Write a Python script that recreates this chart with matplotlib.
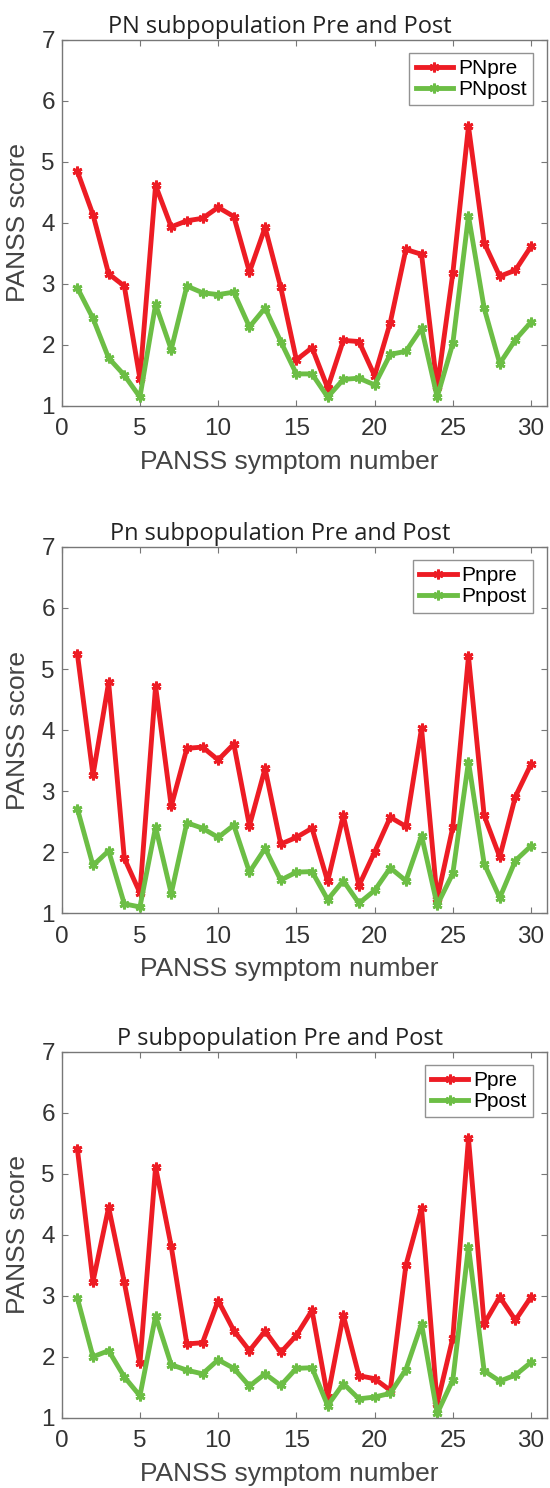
import numpy as np
import matplotlib.pyplot as plt

symptom = np.arange(1, 31)

pn_pre = [4.84, 4.13, 3.16, 2.96, 1.44, 4.61, 3.93, 4.03, 4.07, 4.25, 4.10, 3.19, 3.92, 2.94, 1.75,
          1.95, 1.29, 2.07, 2.05, 1.49, 2.36, 3.56, 3.48, 1.30, 3.17, 5.58, 3.67, 3.12, 3.22, 3.61]
pn_post = [2.93, 2.43, 1.78, 1.50, 1.14, 2.66, 1.92, 2.96, 2.85, 2.82, 2.86, 2.29, 2.60, 2.05, 1.52,
           1.52, 1.14, 1.43, 1.45, 1.34, 1.84, 1.89, 2.27, 1.14, 2.02, 4.11, 2.60, 1.69, 2.08, 2.37]
pn2_pre = [5.25, 3.26, 4.78, 1.90, 1.33, 4.72, 2.75, 3.70, 3.72, 3.51, 3.77, 2.43, 3.37, 2.13, 2.24,
           2.39, 1.52, 2.60, 1.45, 2.00, 2.57, 2.42, 4.03, 1.23, 2.41, 5.21, 2.60, 1.92, 2.91, 3.44]
pn2_post = [2.71, 1.78, 2.02, 1.15, 1.10, 2.41, 1.32, 2.48, 2.39, 2.24, 2.44, 1.67, 2.06, 1.54, 1.67,
            1.68, 1.22, 1.53, 1.16, 1.37, 1.74, 1.53, 2.27, 1.13, 1.65, 3.48, 1.81, 1.25, 1.86, 2.10]
p_pre = [5.41, 3.23, 4.45, 3.22, 1.89, 5.11, 3.81, 2.21, 2.23, 2.92, 2.43, 2.10, 2.42, 2.07, 2.35,
         2.76, 1.34, 2.68, 1.69, 1.64, 1.45, 3.50, 4.44, 1.23, 2.31, 5.58, 2.54, 2.98, 2.60, 2.98]
p_post = [2.96, 2.00, 2.10, 1.67, 1.36, 2.67, 1.87, 1.78, 1.72, 1.95, 1.81, 1.52, 1.72, 1.53, 1.81,
          1.82, 1.20, 1.56, 1.31, 1.34, 1.40, 1.79, 2.54, 1.07, 1.62, 3.80, 1.77, 1.60, 1.70, 1.91]

titles = ["PN subpopulation Pre and Post", "Pn subpopulation Pre and Post", "P subpopulation Pre and Post"]
labels = [("PNpre", "PNpost"), ("Pnpre", "Pnpost"), ("Ppre", "Ppost")]
series = [(pn_pre, pn_post), (pn2_pre, pn2_post), (p_pre, p_post)]

red = "#ED1C24"
green = "#6CBE45"
asterisk = (6, 2, 0)

fig = plt.figure(figsize=(5.5, 14.88), dpi=100)
bottoms = [0.7274, 0.3864, 0.0472]

for i in range(3):
    ax = fig.add_axes([0.1122, bottoms[i], 0.8818, 0.2460])
    pre, post = series[i]
    ax.plot(symptom, pre, color=red, lw=3.5, marker=asterisk, ms=7, mew=2, label=labels[i][0])
    ax.plot(symptom, post, color=green, lw=3.5, marker=asterisk, ms=7, mew=2, label=labels[i][1])
    ax.set_xlim(0, 31)
    ax.set_ylim(1, 7)
    ax.set_xticks(range(0, 31, 5))
    ax.set_yticks(range(1, 8))
    ax.tick_params(direction="in", top=True, right=True, length=4, width=0.8,
                   color="#777777", labelsize=17.5, labelcolor="#333333")
    ax.tick_params(axis="x", pad=9)
    ax.tick_params(axis="y", pad=5)
    for lab in ax.get_xticklabels() + ax.get_yticklabels():
        lab.set_family("Liberation Sans")
    for s in ax.spines.values():
        s.set_color("#777777")
        s.set_linewidth(1.0)
    ax.set_title(titles[i], family="Open Sans", fontsize=17, color="#222222", x=0.45, pad=5)
    ax.set_xlabel("PANSS symptom number", family="Liberation Sans", fontsize=19,
                  color="#444444")
    ax.xaxis.set_label_coords(0.47, -0.12)
    ax.set_ylabel("PANSS score", family="Liberation Sans", fontsize=19, color="#444444")
    ax.yaxis.set_label_coords(-0.065, 0.5)
    leg = ax.legend(loc="upper right", bbox_to_anchor=(0.972, 0.964), borderaxespad=0,
                    prop={"family": "Liberation Sans", "size": 15}, fancybox=False,
                    handlelength=1.8, handletextpad=0.25, borderpad=0.3, labelspacing=0.1,
                    numpoints=1)
    leg.get_frame().set_edgecolor("#777777")
    leg.get_frame().set_linewidth(1.0)

fig.savefig("out.png", dpi=100)
